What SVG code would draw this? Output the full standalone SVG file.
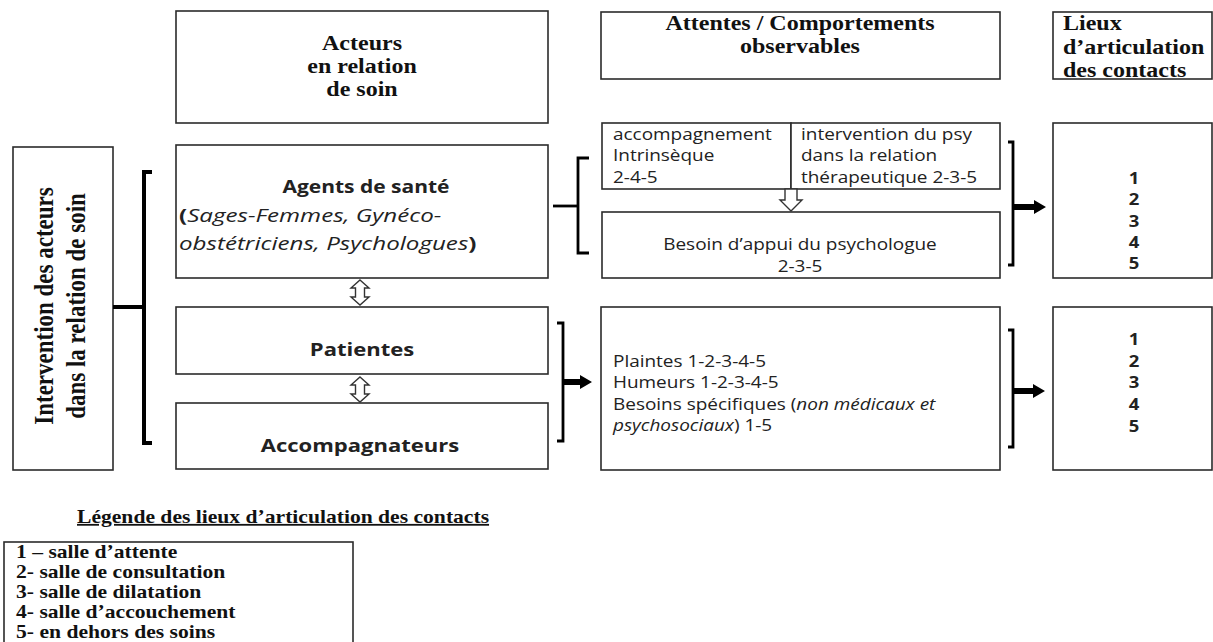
<svg xmlns="http://www.w3.org/2000/svg" width="1213" height="642" viewBox="0 0 1213 642">
<style>
.box{fill:#fff;stroke:#2b2b2b;stroke-width:1.6}
.br{fill:none;stroke:#000;stroke-width:2.8;stroke-linecap:butt}
.brk{fill:none;stroke:#000;stroke-width:4}
.harrow{fill:#fff;stroke:#333;stroke-width:1.4;stroke-linejoin:miter}
.sarrow{fill:#000}
.ser{font-family:"Liberation Serif","Times New Roman",serif;font-weight:bold;font-size:20px;fill:#111}
.sans{font-family:"Open Sans","Noto Sans",sans-serif;font-size:15.8px;fill:#222}
.num{font-family:"Open Sans","Noto Sans",sans-serif;font-size:15.4px;font-weight:bold;fill:#222;text-anchor:middle}
.b{font-weight:bold}
.i{font-style:italic}
.mid{text-anchor:middle}
</style>

<g id="hdr-acteurs">
<rect class="box" x="176" y="11" width="372" height="112"/>
<text class="ser mid" transform="translate(362 0) scale(1.2 1)"><tspan x="0" y="50">Acteurs</tspan><tspan x="0" y="73">en relation</tspan><tspan x="0" y="96">de soin</tspan></text>
</g>

<g id="hdr-attentes">
<rect class="box" x="601" y="12" width="399" height="67"/>
<text class="ser mid" transform="translate(800 0) scale(1.2 1)"><tspan x="0" y="30">Attentes / Comportements</tspan><tspan x="0" y="53">observables</tspan></text>
</g>

<g id="hdr-lieux">
<rect class="box" x="1053" y="12" width="159" height="67"/>
<text class="ser" transform="translate(1063 0) scale(1.2 1)"><tspan x="0" y="30">Lieux</tspan><tspan x="0" y="54">d’articulation</tspan><tspan x="0" y="77">des contacts</tspan></text>
</g>

<g id="intervention">
<rect class="box" x="13" y="147" width="100" height="323"/>
<text class="ser mid" style="font-size:23px" transform="translate(53 306) scale(1.2 1) rotate(-90)" x="0" y="0">Intervention des acteurs</text>
<text class="ser mid" style="font-size:23px" transform="translate(85 306) scale(1.2 1) rotate(-90)" x="0" y="0">dans la relation de soin</text>
</g>

<g id="agents">
<rect class="box" x="176" y="145" width="372" height="133"/>
<text class="sans b mid" style="font-size:17.5px" transform="translate(366 0) scale(1.2 1)" x="0" y="193">Agents de santé</text>
<text class="sans" style="font-size:17.5px" transform="translate(179 0) scale(1.38 1)" x="0" y="222"><tspan class="b">(</tspan><tspan class="i">Sages-Femmes, Gynéco-</tspan></text>
<text class="sans" style="font-size:17.5px" transform="translate(179 0) scale(1.38 1)" x="0" y="250"><tspan class="i">obstétriciens, Psychologues</tspan><tspan class="b">)</tspan></text>
</g>

<g id="patientes">
<rect class="box" x="176" y="307" width="372" height="67"/>
<text class="sans b mid" style="font-size:18.5px" transform="translate(362 0) scale(1.19 1)" x="0" y="356">Patientes</text>
</g>

<g id="accompagnateurs">
<rect class="box" x="176" y="403" width="372" height="66"/>
<text class="sans b mid" style="font-size:18.5px" transform="translate(360 0) scale(1.19 1)" x="0" y="452">Accompagnateurs</text>
</g>

<g id="accompagnement">
<rect class="box" x="602" y="123" width="189" height="66"/>
<text class="sans" transform="translate(613 0) scale(1.2 1)"><tspan x="0" y="140">accompagnement</tspan><tspan x="0" y="161.5">Intrinsèque</tspan><tspan x="0" y="183">2-4-5</tspan></text>
</g>

<g id="intervention-psy">
<rect class="box" x="791" y="123" width="209" height="66"/>
<text class="sans" transform="translate(801 0) scale(1.2 1)"><tspan x="0" y="140">intervention du psy</tspan><tspan x="0" y="161.5">dans la relation</tspan><tspan x="0" y="183">thérapeutique 2-3-5</tspan></text>
</g>

<g id="besoin-appui">
<rect class="box" x="602" y="212" width="398" height="66"/>
<text class="sans mid" transform="translate(800 0) scale(1.2 1)"><tspan x="0" y="250">Besoin d’appui du psychologue</tspan><tspan x="0" y="272">2-3-5</tspan></text>
</g>

<g id="plaintes">
<rect class="box" x="601" y="307" width="399" height="163"/>
<text class="sans" transform="translate(613 0) scale(1.2 1)"><tspan x="0" y="367">Plaintes 1-2-3-4-5</tspan><tspan x="0" y="388.5">Humeurs 1-2-3-4-5</tspan><tspan x="0" y="410">Besoins spécifiques (<tspan class="i">non médicaux et</tspan></tspan><tspan x="0" y="431.5"><tspan class="i">psychosociaux</tspan>) 1-5</tspan></text>
</g>

<g id="lieux-1">
<rect class="box" x="1053" y="123" width="159" height="155"/>
<text class="num" transform="translate(1134 0) scale(1.2 1)"><tspan x="0" y="184">1</tspan><tspan x="0" y="205.3">2</tspan><tspan x="0" y="226.6">3</tspan><tspan x="0" y="248">4</tspan><tspan x="0" y="269.3">5</tspan></text>
</g>

<g id="lieux-2">
<rect class="box" x="1053" y="307" width="159" height="163"/>
<text class="num" transform="translate(1134 0) scale(1.2 1)"><tspan x="0" y="345">1</tspan><tspan x="0" y="366.7">2</tspan><tspan x="0" y="388.4">3</tspan><tspan x="0" y="410.1">4</tspan><tspan x="0" y="431.8">5</tspan></text>
</g>

<g id="connectors">
<path class="brk" d="M152,172 H144 V443 H152"/>
<line class="brk" x1="113" y1="307" x2="144" y2="307"/>
<path class="harrow" d="M360,280 L369,288 L364.5,288 L364.5,297 L369,297 L360,305 L351,297 L355.5,297 L355.5,288 L351,288 Z"/>
<path class="harrow" d="M360,377 L369,385 L364.5,385 L364.5,394 L369,394 L360,402 L351,394 L355.5,394 L355.5,385 L351,385 Z"/>
<line class="br" x1="553" y1="206" x2="578" y2="206"/>
<path class="br" d="M589,158 H578 V253 H589"/>
<path class="harrow" d="M785,189 H797 V200 H802 L791,211 L780,200 H785 Z"/>
<path class="br" d="M557,323 H563 V441 H557"/>
<path class="sarrow" d="M563,379 H580 V375 L592,382 L580,389 V385 H563 Z"/>
<path class="br" d="M1008,142 H1013 V265 H1008"/>
<path class="sarrow" d="M1013,204 H1034 V200 L1046,207 L1034,214 V210 H1013 Z"/>
<path class="br" d="M1008,330 H1013 V447 H1008"/>
<path class="sarrow" d="M1013,388 H1033 V384 L1045,391 L1033,398 V394 H1013 Z"/>
</g>

<g id="legende">
<text class="ser" style="font-size:18px;text-decoration:underline" transform="translate(77 0) scale(1.2 1)" x="0" y="523">Légende des lieux d’articulation des contacts</text>
<rect class="box" x="4" y="542" width="349" height="110"/>
<text class="ser" style="font-size:18px" transform="translate(16 0) scale(1.2 1)"><tspan x="0" y="558">1 – salle d’attente</tspan><tspan x="0" y="578">2- salle de consultation</tspan><tspan x="0" y="598">3- salle de dilatation</tspan><tspan x="0" y="618">4- salle d’accouchement</tspan><tspan x="0" y="638">5- en dehors des soins</tspan></text>
</g>
</svg>
